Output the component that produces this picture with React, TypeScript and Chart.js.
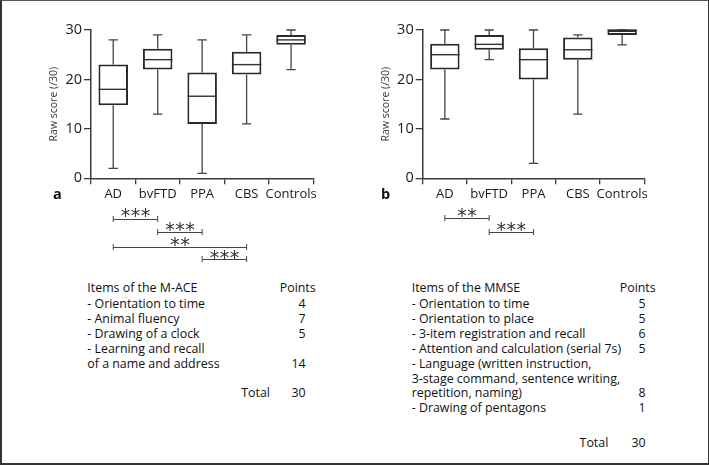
import React, { useEffect, useRef } from "react";
import { Chart, registerables } from "chart.js";

Chart.register(...registerables);

// ---------- DATA ----------
const categories = ["AD", "bvFTD", "PPA", "CBS", "Controls"];
const yTickValues = [0, 10, 20, 30];

// Panel a: M-ACE
const maceMin = [2, 13, 1, 11, 22];
const maceQ1 = [14.8, 22, 11, 21, 27];
const maceMedian = [18, 24, 16.6, 23, 28];
const maceQ3 = [23, 26.2, 21.4, 25.6, 29];
const maceMax = [28, 29, 28, 29, 30];
const maceSig: [string, string, string][] = [
  ["AD", "bvFTD", "***"],
  ["bvFTD", "PPA", "***"],
  ["AD", "CBS", "**"],
  ["PPA", "CBS", "***"],
];

// Panel b: MMSE
const mmseMin = [12, 24, 3, 13, 27];
const mmseQ1 = [22, 26, 20, 24, 29];
const mmseMedian = [25, 27.1, 24, 26, 30];
const mmseQ3 = [27.2, 29, 26.3, 28.5, 30];
const mmseMax = [30, 30, 30, 29, 30];
const mmseSig: [string, string, string][] = [
  ["AD", "bvFTD", "**"],
  ["bvFTD", "PPA", "***"],
];

// Tables
const maceItems = [
  "- Orientation to time",
  "- Animal fluency",
  "- Drawing of a clock",
  "- Learning and recall",
  "of a name and address",
];
const macePoints = ["4", "7", "5", "", "14"];
const maceTotal = "30";

const mmseItems = [
  "- Orientation to time",
  "- Orientation to place",
  "- 3-item registration and recall",
  "- Attention and calculation (serial 7s)",
  "- Language (written instruction,",
  "3-stage command, sentence writing,",
  "repetition, naming)",
  "- Drawing of pentagons",
];
const mmsePoints = ["5", "5", "6", "5", "", "", "8", "1"];
const mmseTotal = "30";

// ---------- STYLE ----------
const FONT = '"Open Sans", "Noto Sans", sans-serif';
const AXIS_COLOR = "#3a3a3a";
const TEXT_COLOR = "#1a1a1a";

type PanelProps = {
  left: number;
  width: number;
  height: number;
  yAxisWidth: number;
  padRight: number;
  titlePad: number;
  lo: number[];
  q1: number[];
  med: number[];
  q3: number[];
  hi: number[];
  sig: [string, string, string][];
  sigLineY: number[];
  sigStarY: number[];
};

function BoxPanel(p: PanelProps) {
  const ref = useRef<HTMLCanvasElement>(null);
  useEffect(() => {
    if (!ref.current) return;
    const plugin = {
      id: "boxplotExtras",
      beforeDatasetsDraw(chart: any) {
        const ctx = chart.ctx;
        const xs = chart.scales.x;
        const ys = chart.scales.y;
        const cap = (xs.getPixelForValue(1) - xs.getPixelForValue(0)) * 0.21;
        ctx.save();
        ctx.strokeStyle = "#444";
        ctx.lineWidth = 1.3;
        categories.forEach((_, i) => {
          const cx = xs.getPixelForValue(i);
          const yHi = ys.getPixelForValue(p.hi[i]);
          const yQ3 = ys.getPixelForValue(p.q3[i]);
          const yQ1 = ys.getPixelForValue(p.q1[i]);
          const yLo = ys.getPixelForValue(p.lo[i]);
          ctx.beginPath();
          ctx.moveTo(cx, yQ3);
          ctx.lineTo(cx, yHi);
          ctx.moveTo(cx - cap / 2, yHi);
          ctx.lineTo(cx + cap / 2, yHi);
          ctx.moveTo(cx, yQ1);
          ctx.lineTo(cx, yLo);
          ctx.moveTo(cx - cap / 2, yLo);
          ctx.lineTo(cx + cap / 2, yLo);
          ctx.stroke();
        });
        ctx.restore();
      },
      afterDatasetsDraw(chart: any) {
        const ctx = chart.ctx;
        const xs = chart.scales.x;
        const ys = chart.scales.y;
        const meta = chart.getDatasetMeta(0);
        ctx.save();
        ctx.strokeStyle = "#333";
        ctx.lineWidth = 1.4;
        categories.forEach((_, i) => {
          const cx = xs.getPixelForValue(i);
          const w = meta.data[i].width;
          const ym = ys.getPixelForValue(p.med[i]);
          ctx.beginPath();
          ctx.moveTo(cx - w / 2, ym);
          ctx.lineTo(cx + w / 2, ym);
          ctx.stroke();
        });
        ctx.restore();
      },
      afterDraw(chart: any) {
        const ctx = chart.ctx;
        const xs = chart.scales.x;
        ctx.save();
        ctx.strokeStyle = "#444";
        ctx.fillStyle = "#333";
        ctx.lineWidth = 1;
        ctx.font = '19px "DejaVu Sans"';
        p.sig.forEach(([a, b, stars], k) => {
          const x1 = xs.getPixelForValue(categories.indexOf(a));
          const x2 = xs.getPixelForValue(categories.indexOf(b));
          const ly = Math.round(p.sigLineY[k]) + 0.5;
          ctx.beginPath();
          ctx.moveTo(x1, ly);
          ctx.lineTo(x2, ly);
          ctx.moveTo(x1, ly - 3.5);
          ctx.lineTo(x1, ly + 2.5);
          ctx.moveTo(x2, ly - 3.5);
          ctx.lineTo(x2, ly + 2.5);
          ctx.stroke();
          const m = ctx.measureText("*");
          const baseline =
            p.sigStarY[k] -
            (m.actualBoundingBoxDescent - m.actualBoundingBoxAscent) / 2;
          const spacing = 10;
          const mid = (x1 + x2) / 2;
          const n = stars.length;
          ctx.textAlign = "center";
          for (let s = 0; s < n; s++) {
            const sx = mid + (s - (n - 1) / 2) * spacing;
            ctx.fillText(stars[s], sx, baseline);
          }
        });
        ctx.restore();
      },
    };

    const chart = new Chart(ref.current, {
      type: "bar",
      data: {
        labels: categories,
        datasets: [
          {
            data: categories.map((_, i) => [p.q1[i], p.q3[i]]) as any,
            backgroundColor: "#ffffff",
            borderColor: "#2a2a2a",
            borderWidth: 2,
            borderSkipped: false,
            barPercentage: 0.664,
            categoryPercentage: 1,
            clip: false as any,
          },
        ],
      },
      options: {
        animation: false,
        responsive: false,
        maintainAspectRatio: false,
        events: [],
        layout: {
          padding: {
            left: 0,
            top: 30,
            right: p.padRight,
            bottom: p.height - 178.3 - 30,
          },
        },
        plugins: {
          legend: { display: false },
          tooltip: { enabled: false },
        },
        scales: {
          x: {
            type: "category",
            offset: true,
            afterFit: (s: any) => {
              s.height = 30;
            },
            grid: {
              offset: true,
              drawOnChartArea: false,
              drawTicks: true,
              tickLength: 6,
              color: AXIS_COLOR,
              lineWidth: 1.3,
            },
            border: { display: true, color: AXIS_COLOR, width: 1.5 },
            ticks: {
              color: TEXT_COLOR,
              padding: 2,
              font: { family: FONT, size: 13 },
              maxRotation: 0,
              autoSkip: false,
            },
          },
          y: {
            type: "linear",
            min: 0,
            max: 30,
            afterFit: (s: any) => {
              s.width = p.yAxisWidth;
            },
            afterBuildTicks: (s: any) => {
              s.ticks = yTickValues.map((v) => ({ value: v }));
            },
            grid: {
              drawOnChartArea: false,
              drawTicks: true,
              tickLength: 7,
              color: AXIS_COLOR,
              lineWidth: 1.3,
            },
            border: { display: true, color: AXIS_COLOR, width: 1.5 },
            ticks: {
              color: TEXT_COLOR,
              padding: 2,
              font: { family: FONT, size: 14.5 },
            },
            title: {
              display: true,
              text: "Raw score (/30)",
              color: "#3a3a3a",
              font: { family: FONT, size: 10.5 },
              padding: { top: p.titlePad, bottom: 0 },
            },
          },
        },
      },
      plugins: [plugin],
    });
    return () => chart.destroy();
  }, []);
  return (
    <canvas
      ref={ref}
      width={p.width}
      height={p.height}
      style={{
        position: "absolute",
        left: p.left,
        top: 0,
        width: p.width,
        height: p.height,
      }}
    />
  );
}

const ROW_H = 14.85;

function TextAt(props: {
  x: number;
  y: number;
  text: string;
  align?: "left" | "right";
  bold?: boolean;
  size?: number;
}) {
  const lh = 18;
  const style: any = {
    position: "absolute",
    top: props.y - lh / 2,
    lineHeight: lh + "px",
    height: lh,
    fontFamily: FONT,
    fontSize: props.size ?? 12.4,
    color: "#111",
    whiteSpace: "nowrap",
    fontWeight: props.bold ? 700 : 400,
  };
  if (props.align === "right") {
    style.right = 709 - props.x;
    style.textAlign = "right";
  } else {
    style.left = props.x;
  }
  return <div style={style}>{props.text}</div>;
}

export default function App() {
  return (
    <div
      style={{
        position: "absolute",
        left: 0,
        top: 0,
        width: 709,
        height: 465,
        background: "#fff",
        overflow: "hidden",
      }}
    >
      <BoxPanel
        left={0}
        width={354}
        height={270}
        yAxisWidth={91}
        padRight={354 - 313.3}
        titlePad={55 - 7.2 - 0.5}
        lo={maceMin}
        q1={maceQ1}
        med={maceMedian}
        q3={maceQ3}
        hi={maceMax}
        sig={maceSig}
        sigLineY={[219.3, 232.3, 247.3, 259]}
        sigStarY={[212, 226.3, 241, 254.3]}
      />
      <BoxPanel
        left={354}
        width={355}
        height={270}
        yAxisWidth={422.7 - 354}
        padRight={355 - (644.3 - 354)}
        titlePad={387 - 354 - 7.2 - 0.5}
        lo={mmseMin}
        q1={mmseQ1}
        med={mmseMedian}
        q3={mmseQ3}
        hi={mmseMax}
        sig={mmseSig}
        sigLineY={[218.3, 232.3]}
        sigStarY={[212, 226.3]}
      />
      <TextAt x={53} y={194} text="a" bold size={14.5} />
      <TextAt x={381} y={194} text="b" bold size={14.5} />

      {/* Table a */}
      <TextAt x={87.3} y={288.3} text="Items of the M-ACE" />
      <TextAt x={315.7} y={288.3} text="Points" align="right" />
      {maceItems.map((t, i) => (
        <TextAt key={"ai" + i} x={87.3} y={304.3 + i * ROW_H} text={t} />
      ))}
      {macePoints.map((t, i) =>
        t ? (
          <TextAt
            key={"ap" + i}
            x={305.7}
            y={304.3 + i * ROW_H}
            text={t}
            align="right"
          />
        ) : null
      )}
      <TextAt x={270} y={393.3} text="Total" align="right" />
      <TextAt x={305.7} y={393.3} text={maceTotal} align="right" />

      {/* Table b */}
      <TextAt x={411.7} y={288.3} text="Items of the MMSE" />
      <TextAt x={655.7} y={288.3} text="Points" align="right" />
      {mmseItems.map((t, i) => (
        <TextAt key={"bi" + i} x={411.7} y={304.3 + i * ROW_H} text={t} />
      ))}
      {mmsePoints.map((t, i) =>
        t ? (
          <TextAt
            key={"bp" + i}
            x={645.7}
            y={304.3 + i * ROW_H}
            text={t}
            align="right"
          />
        ) : null
      )}
      <TextAt x={608.3} y={443.3} text="Total" align="right" />
      <TextAt x={645.7} y={443.3} text={mmseTotal} align="right" />

      {/* frame */}
      <div
        style={{
          position: "absolute",
          left: 0,
          top: 0,
          width: 709,
          height: 465,
          boxSizing: "border-box",
          borderTop: "1px solid #555",
          borderRight: "1px solid #333",
          borderLeft: "2px solid #333",
          borderBottom: "2px solid #333",
          pointerEvents: "none",
        }}
      />
    </div>
  );
}
